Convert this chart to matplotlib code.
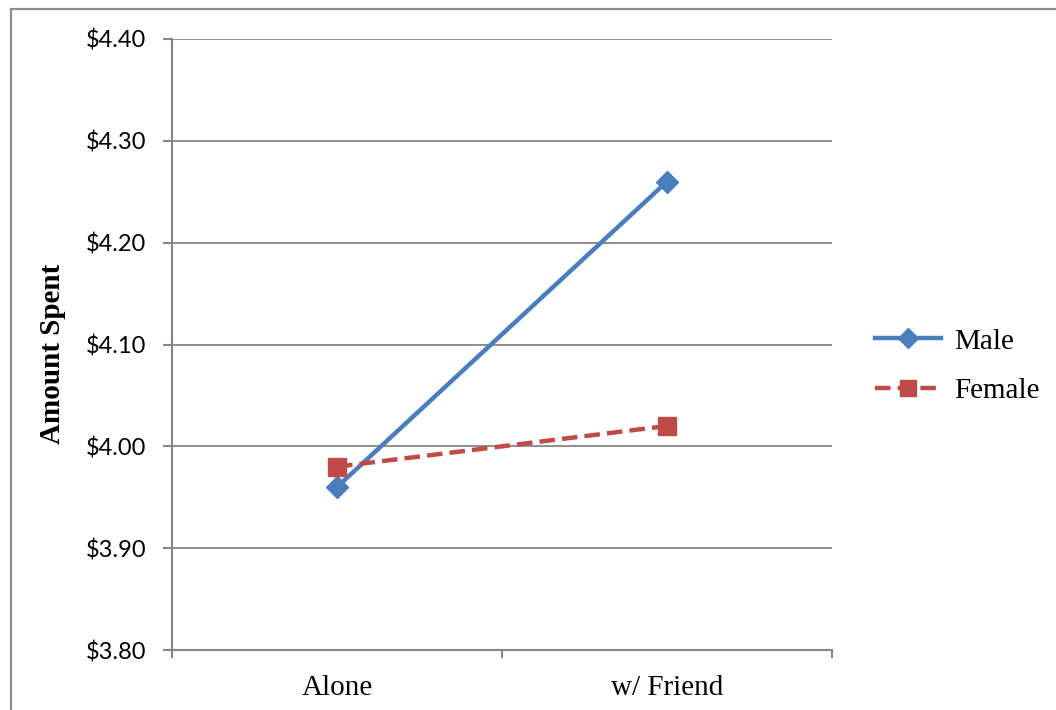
import matplotlib
matplotlib.use("Agg")
import matplotlib.pyplot as plt
from matplotlib.patches import Rectangle

categories = ["Alone", "w/ Friend"]
male = [3.96, 4.26]
female = [3.98, 4.02]
yticks = [3.80, 3.90, 4.00, 4.10, 4.20, 4.30, 4.40]

W, H = 1056, 710
fig = plt.figure(figsize=(W/100, H/100), dpi=100)
ax = fig.add_axes([172/W, 1-650/H, (832-172)/W, (650-39)/H])

# outer frame
fig.patches.append(Rectangle((11/W, -0.1), 1.2, 1 - 9/H + 0.1, transform=fig.transFigure,
                             fill=False, edgecolor="#8c8c8c", linewidth=1.6))

grid_c = "#868686"
x = list(range(len(categories)))
ax.plot(x, male, color="#4A7EBB", linewidth=3.2, marker="D", markersize=11.5,
        label="Male", zorder=3)
ax.plot(x, female, color="#BE4B48", linewidth=3.2, linestyle=(0, (3.5, 1.6)),
        marker="s", markersize=13.5, label="Female", zorder=3)

ax.set_xlim(-0.5, 1.5)
ax.set_ylim(3.80, 4.40)
ax.set_yticks(yticks)
ax.set_yticklabels([f"${v:.2f}" for v in yticks], fontfamily="Lato", fontsize=17)
ax.set_xticks([-0.5, 0.5, 1.5])
ax.set_xticklabels([])
ax.set_xticks(x, minor=True)
ax.set_xticklabels(categories, minor=True, fontfamily="Liberation Serif", fontsize=21)
ax.tick_params(axis="x", which="minor", length=0, pad=18)
ax.tick_params(axis="x", which="major", length=6, color=grid_c, width=1.5)
ax.tick_params(axis="y", length=6.5, color=grid_c, width=1.5, pad=12)

ax.yaxis.grid(True, color=grid_c, linewidth=1.3)
ax.set_axisbelow(True)
for s in ["top", "right"]:
    ax.spines[s].set_visible(False)
for s in ["left", "bottom"]:
    ax.spines[s].set_color(grid_c)
    ax.spines[s].set_linewidth(1.5)

ax.set_ylabel("Amount Spent", fontfamily="Liberation Serif", fontweight="bold",
              fontsize=21)
ax.yaxis.set_label_coords((66 - 172) / (832 - 172), 1 - (354 - 39) / (650 - 39))

leg = fig.legend(*ax.get_legend_handles_labels(), loc="center left",
                 bbox_to_anchor=(875/W, 1 - 366/H), frameon=False,
                 prop={"family": "Liberation Serif", "size": 21},
                 handlelength=2.25, handletextpad=0.45, labelspacing=0.78,
                 borderpad=0, borderaxespad=0, markerscale=0.85)

fig.savefig("out.png", dpi=100)
